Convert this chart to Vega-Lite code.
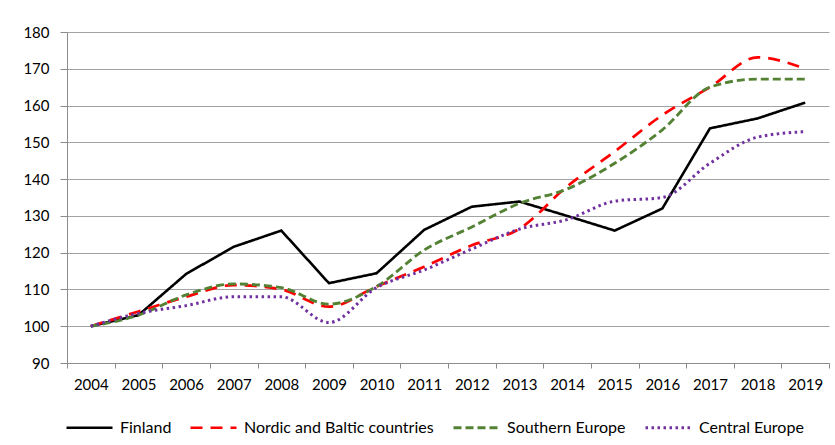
{
  "$schema": "https://vega.github.io/schema/vega-lite/v6.json",
  "width": 762,
  "height": 331,
  "autosize": {"type": "none"},
  "padding": {"left": 67, "top": 32, "right": 6, "bottom": 82},
  "background": "white",
  "config": {"view": {"stroke": null}, "font": "Lato"},
  "data": {"values": [
    {"year": "2004", "series": "Finland", "value": 100},
    {"year": "2005", "series": "Finland", "value": 103},
    {"year": "2006", "series": "Finland", "value": 114.2},
    {"year": "2007", "series": "Finland", "value": 121.6},
    {"year": "2008", "series": "Finland", "value": 126},
    {"year": "2009", "series": "Finland", "value": 111.7},
    {"year": "2010", "series": "Finland", "value": 114.4},
    {"year": "2011", "series": "Finland", "value": 126.2},
    {"year": "2012", "series": "Finland", "value": 132.5},
    {"year": "2013", "series": "Finland", "value": 133.9},
    {"year": "2014", "series": "Finland", "value": 130},
    {"year": "2015", "series": "Finland", "value": 126},
    {"year": "2016", "series": "Finland", "value": 132},
    {"year": "2017", "series": "Finland", "value": 153.8},
    {"year": "2018", "series": "Finland", "value": 156.5},
    {"year": "2019", "series": "Finland", "value": 160.8},
    {"year": "2004", "series": "Nordic and Baltic countries", "value": 100},
    {"year": "2005", "series": "Nordic and Baltic countries", "value": 104},
    {"year": "2006", "series": "Nordic and Baltic countries", "value": 108},
    {"year": "2007", "series": "Nordic and Baltic countries", "value": 111.2},
    {"year": "2008", "series": "Nordic and Baltic countries", "value": 110},
    {"year": "2009", "series": "Nordic and Baltic countries", "value": 105.3},
    {"year": "2010", "series": "Nordic and Baltic countries", "value": 110.8},
    {"year": "2011", "series": "Nordic and Baltic countries", "value": 116.2},
    {"year": "2012", "series": "Nordic and Baltic countries", "value": 122},
    {"year": "2013", "series": "Nordic and Baltic countries", "value": 126.5},
    {"year": "2014", "series": "Nordic and Baltic countries", "value": 138},
    {"year": "2015", "series": "Nordic and Baltic countries", "value": 147.5},
    {"year": "2016", "series": "Nordic and Baltic countries", "value": 157.4},
    {"year": "2017", "series": "Nordic and Baltic countries", "value": 165},
    {"year": "2018", "series": "Nordic and Baltic countries", "value": 173.1},
    {"year": "2019", "series": "Nordic and Baltic countries", "value": 170},
    {"year": "2004", "series": "Southern Europe", "value": 100},
    {"year": "2005", "series": "Southern Europe", "value": 103},
    {"year": "2006", "series": "Southern Europe", "value": 108.5},
    {"year": "2007", "series": "Southern Europe", "value": 111.5},
    {"year": "2008", "series": "Southern Europe", "value": 110.5},
    {"year": "2009", "series": "Southern Europe", "value": 106},
    {"year": "2010", "series": "Southern Europe", "value": 110.8},
    {"year": "2011", "series": "Southern Europe", "value": 120.7},
    {"year": "2012", "series": "Southern Europe", "value": 127},
    {"year": "2013", "series": "Southern Europe", "value": 133.4},
    {"year": "2014", "series": "Southern Europe", "value": 137.3},
    {"year": "2015", "series": "Southern Europe", "value": 144.3},
    {"year": "2016", "series": "Southern Europe", "value": 153.4},
    {"year": "2017", "series": "Southern Europe", "value": 165},
    {"year": "2018", "series": "Southern Europe", "value": 167.2},
    {"year": "2019", "series": "Southern Europe", "value": 167.2},
    {"year": "2004", "series": "Central Europe", "value": 100},
    {"year": "2005", "series": "Central Europe", "value": 103.5},
    {"year": "2006", "series": "Central Europe", "value": 105.6},
    {"year": "2007", "series": "Central Europe", "value": 108},
    {"year": "2008", "series": "Central Europe", "value": 108},
    {"year": "2009", "series": "Central Europe", "value": 101},
    {"year": "2010", "series": "Central Europe", "value": 110.5},
    {"year": "2011", "series": "Central Europe", "value": 115.3},
    {"year": "2012", "series": "Central Europe", "value": 121},
    {"year": "2013", "series": "Central Europe", "value": 126.4},
    {"year": "2014", "series": "Central Europe", "value": 129},
    {"year": "2015", "series": "Central Europe", "value": 134},
    {"year": "2016", "series": "Central Europe", "value": 135},
    {"year": "2017", "series": "Central Europe", "value": 144.3},
    {"year": "2018", "series": "Central Europe", "value": 151.4},
    {"year": "2019", "series": "Central Europe", "value": 152.9}
  ]},
  "encoding": {
    "x": {
      "field": "year", "type": "ordinal",
      "scale": {"type": "band", "paddingInner": 0, "paddingOuter": 0},
      "bandPosition": 0.5,
      "axis": {
        "title": null, "tickBand": "extent", "labelAngle": 0,
        "domainColor": "#8c8c8c", "tickColor": "#8c8c8c", "tickSize": 5,
        "labelPadding": 9, "labelFontSize": 15, "labelColor": "#000000", "grid": false
      }
    },
    "y": {
      "field": "value", "type": "quantitative",
      "scale": {"domain": [90, 180], "nice": false, "zero": false},
      "axis": {
        "title": null, "values": [90, 100, 110, 120, 130, 140, 150, 160, 170, 180],
        "grid": true, "gridColor": "#a3a3a3", "gridWidth": 1.2,
        "domainColor": "#8c8c8c", "tickColor": "#8c8c8c", "tickSize": 7,
        "labelPadding": 11, "labelFontSize": 15, "labelColor": "#000000"
      }
    },
    "color": {
      "field": "series", "type": "nominal",
      "scale": {
        "domain": ["Finland", "Nordic and Baltic countries", "Southern Europe", "Central Europe"],
        "range": ["#000000", "#ff0000", "#548235", "#7030a0"]
      },
      "legend": {
        "orient": "none", "legendX": -2, "legendY": 371, "direction": "horizontal",
        "title": null, "symbolType": "stroke", "symbolSize": 2116, "labelLimit": 400,
        "labelFontSize": 16, "labelOffset": 6, "columnPadding": 13, "labelColor": "#000000"
      }
    },
    "strokeDash": {
      "field": "series", "type": "nominal",
      "scale": {
        "domain": ["Finland", "Nordic and Baltic countries", "Southern Europe", "Central Europe"],
        "range": [[1, 0], [12, 8], [8, 4], [2.5, 3.5]]
      }
    },
    "strokeWidth": {
      "field": "series", "type": "nominal",
      "scale": {
        "domain": ["Finland", "Nordic and Baltic countries", "Southern Europe", "Central Europe"],
        "range": [2.6, 3, 3, 2.6]
      }
    }
  },
  "layer": [
    {
      "transform": [{"filter": "datum.series === 'Finland'"}],
      "mark": {"type": "line", "interpolate": "linear"}
    },
    {
      "transform": [{"filter": "datum.series !== 'Finland'"}],
      "mark": {"type": "line", "interpolate": "monotone"}
    }
  ]
}
